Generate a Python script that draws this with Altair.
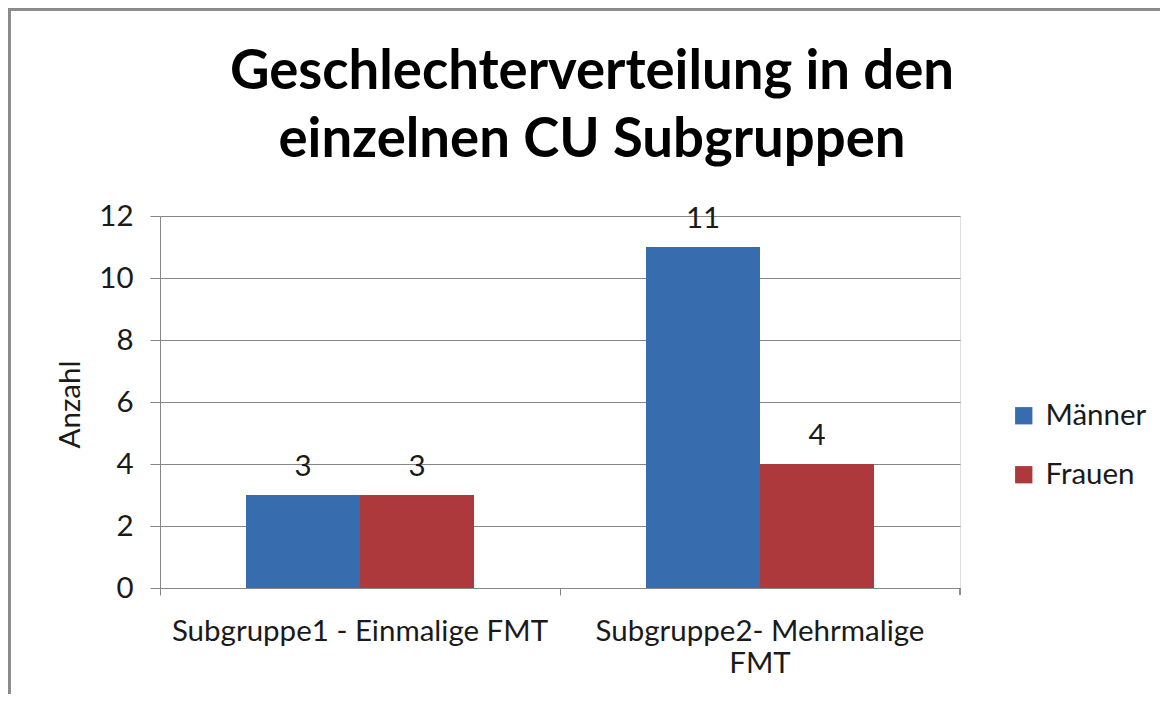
import altair as alt
import pandas as pd

categories = ["Subgruppe1 - Einmalige FMT", "Subgruppe2- Mehrmalige FMT"]
series = ["Männer", "Frauen"]
maenner = [3, 11]
frauen = [3, 4]
y_ticks = [0, 2, 4, 6, 8, 10, 12]
colors = ["#376DAF", "#AE393D"]

rows = []
for i, c in enumerate(categories):
    rows.append({"Subgruppe": c, "Geschlecht": series[0], "Anzahl": maenner[i]})
    rows.append({"Subgruppe": c, "Geschlecht": series[1], "Anzahl": frauen[i]})
df = pd.DataFrame(rows)

FONT = "Lato"
FS = 29.5
W, H = 800, 372

x_enc = alt.X(
    "Subgruppe:N",
    sort=categories,
    scale=alt.Scale(paddingInner=0, paddingOuter=0),
    axis=alt.Axis(
        title=None,
        labelAngle=0,
        labelFont=FONT,
        labelFontSize=FS,
        labelColor="#1a1a1a",
        labelPadding=22,
        labelLineHeight=32,
        labelLimit=0,
        labelExpr="indexof(datum.label, 'Mehrmalige') >= 0 ? ['Subgruppe2- Mehrmalige', 'FMT'] : datum.label",
        bandPosition=0,
        tickSize=7,
        tickColor="#868686",
        domainColor="#868686",
        grid=False,
    ),
)
xoff = alt.XOffset(
    "Geschlecht:N",
    sort=series,
    scale=alt.Scale(paddingInner=0, paddingOuter=0.754),
)
y_enc = alt.Y(
    "Anzahl:Q",
    scale=alt.Scale(domain=[0, 12]),
    axis=alt.Axis(
        values=y_ticks,
        title="Anzahl",
        titleFont=FONT,
        titleFontSize=FS,
        titleFontWeight="normal",
        titleColor="#1a1a1a",
        titleAngle=-90,
        titleX=-90,
        titleY=188,
        titleAlign="center",
        titleBaseline="middle",
        labelFont=FONT,
        labelFontSize=FS,
        labelColor="#1a1a1a",
        labelPadding=17,
        tickSize=10,
        tickColor="#868686",
        domainColor="#868686",
        gridColor="#868686",
        gridWidth=1,
    ),
)
color_enc = alt.Color(
    "Geschlecht:N",
    sort=series,
    scale=alt.Scale(domain=series, range=colors),
    legend=alt.Legend(
        title=None,
        orient="none",
        legendX=849,
        legendY=185,
        labelFont=FONT,
        labelFontSize=FS,
        labelColor="#1a1a1a",
        symbolType="square",
        symbolSize=300,
        symbolStrokeWidth=0,
        rowPadding=28,
        labelOffset=7,
    ),
)

bars = alt.Chart(df).mark_bar(strokeWidth=0).encode(
    x=x_enc, xOffset=xoff, y=y_enc, color=color_enc
)
labels = alt.Chart(df).mark_text(
    font=FONT, fontSize=FS, color="#1a1a1a", dy=-28
).encode(
    x=alt.X("Subgruppe:N", sort=categories),
    xOffset=alt.XOffset("Geschlecht:N", sort=series),
    y="Anzahl:Q",
    text="Anzahl:Q",
)
end_tick = alt.Chart(df).mark_rule(color="#868686").encode(
    x=alt.value(W), y=alt.value(H), y2=alt.value(H + 7)
)
frame = alt.Chart(df).mark_rect(
    fill=None, stroke="#8a8a8a", strokeWidth=3
).encode(
    x=alt.value(-151), x2=alt.value(1030), y=alt.value(-207), y2=alt.value(520)
)

chart = alt.layer(frame, bars, labels, end_tick).properties(
    width=W,
    height=H,
    autosize=alt.AutoSizeParams(type="none"),
    padding={"left": 152, "top": 208, "right": 200, "bottom": 106},
    title=alt.TitleParams(
        text=["Geschlechterverteilung in den", "einzelnen CU Subgruppen"],
        font=FONT,
        fontSize=54.5,
        fontWeight="bold",
        color="#000000",
        anchor="middle",
        frame="group",
        dx=32,
        offset=-161,
        lineHeight=68,
    ),
).configure_view(stroke=None).configure(background="white")

chart.save("out.html", embed_options={"renderer": "svg", "actions": False})
